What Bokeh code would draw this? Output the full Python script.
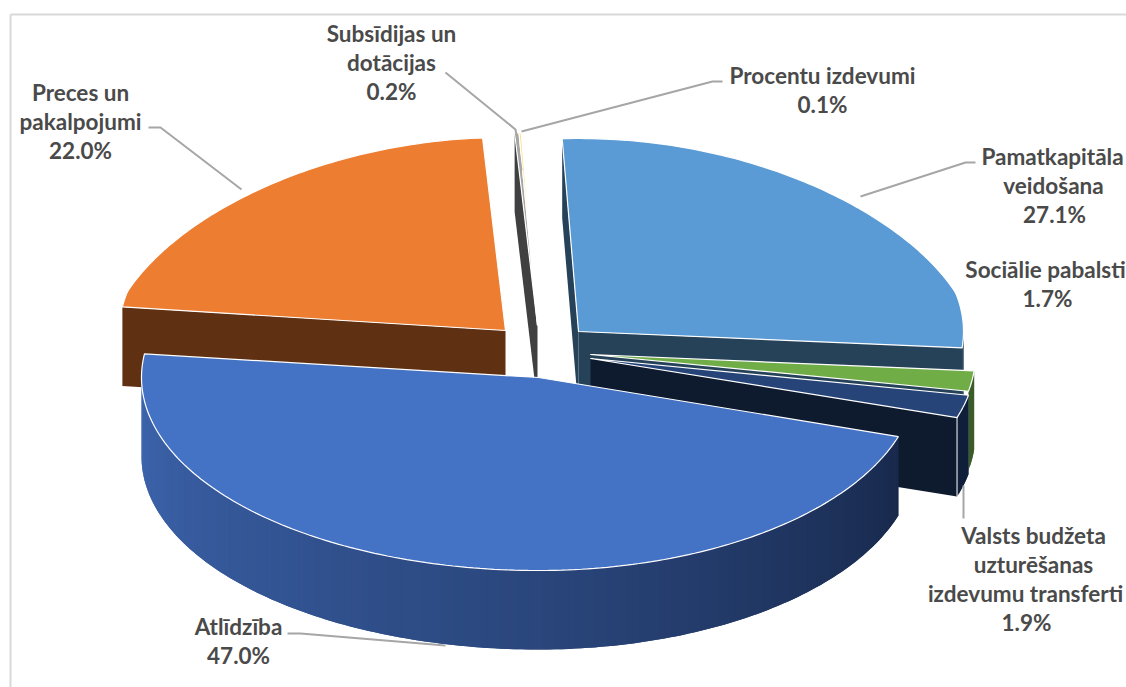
from math import sin, cos, radians
from bokeh.plotting import figure
from bokeh.models import Range1d
from bokeh.core.properties import value
from bokeh.embed import file_html
from bokeh.resources import INLINE

# ---- data ----
categories = ["Pamatkapitāla veidošana", "Sociālie pabalsti",
              "Valsts budžeta uzturēšanas izdevumu transferti", "Atlīdzība",
              "Preces un pakalpojumi", "Subsīdijas un dotācijas", "Procentu izdevumi"]
shares = [27.1, 1.7, 1.9, 47.0, 22.0, 0.2, 0.1]
share_labels = ["27.1%", "1.7%", "1.9%", "47.0%", "22.0%", "0.2%", "0.1%"]
name_lines = [["Pamatkapitāla", "veidošana"], ["Sociālie pabalsti"],
              ["Valsts budžeta", "uzturēšanas", "izdevumu transferti"], ["Atlīdzība"],
              ["Preces un", "pakalpojumi"], ["Subsīdijas un", "dotācijas"], ["Procentu izdevumi"]]

# ---- styling / layout (page pixels) ----
top_colors = ["#5b9bd5", "#70ad47", "#264478", "#4472c4", "#ed7d31", "#a5a5a5", "#ffdf80"]
wall_colors = ["#264259", "#3c5c27", "#0e1a2e", "#1a2b50", "#5f3012", "#404040", "#7f6000"]
rim_colors = ["#264259", "#3c5c27", "#101f3a", None, "#5f3012", "#404040", "#7f6000"]
apex_x = [578, 590, 590, 538, 505, 537, 537]
apex_y = [331, 354, 358, 377, 330, 325, 325]
radius_right = [385, 385, 385, 378, 385, 385, 385]
radius_left = [385, 385, 385, 397, 386, 385, 385]
RY, DEPTH, PERSP, START = 193, 79, 0.1, -2.7
label_y = [156, 269, 535, 626, 92, 33, 75]
label_line_x = [[1052, 1053, 1054], [1045, 1047], [1033, 1033, 1025, 1026], [238, 238],
                [80, 80, 80], [391, 391, 391], [822, 822]]
LINE_H = 29
leaders = [([860, 965, 975], [196, 162, 162]),
           ([963, 963], [485, 518]),
           ([287, 300, 445], [633, 633, 645]),
           ([148, 160, 241], [127, 127, 189]),
           ([445, 515, 521], [72, 129, 170]),
           ([521, 712, 722], [131, 81, 81])]

W, H = 1126, 687
p = figure(width=W, height=H, x_range=Range1d(0, W), y_range=Range1d(H, 0),
           x_axis_type=None, y_axis_type=None, toolbar_location=None,
           output_backend="svg", min_border=0, outline_line_color=None,
           background_fill_color="white", border_fill_color="white")

# frame of the chart
p.line([10, 10], [14, H], line_color="#d9d9d9", line_width=2)
p.line([10, W], [14, 14], line_color="#d9d9d9", line_width=2)


def pt(i, th):
    t = radians(th)
    x, y = sin(t), cos(t)
    f = 1 - PERSP * max(y - 0.2, 0) / 0.8
    r = radius_right[i] if x >= 0 else radius_left[i]
    return apex_x[i] + r * x * f, apex_y[i] - RY * y


def arc(i, a, b, n=None):
    n = n or max(2, int(abs(b - a)) + 2)
    return [pt(i, a + (b - a) * k / (n - 1)) for k in range(n)]


def mix(c1, c2, t):
    a = [int(c1[j:j + 2], 16) for j in (1, 3, 5)]
    b = [int(c2[j:j + 2], 16) for j in (1, 3, 5)]
    return "#%02x%02x%02x" % tuple(round(a[j] + (b[j] - a[j]) * t) for j in range(3))


def gradient(t):
    return mix("#3d65ae", "#2a467c", t / 0.55) if t < 0.55 else mix("#2a467c", "#18294c", (t - 0.55) / 0.45)


# angular spans from the shares
spans = []
acc = START
for s in shares:
    spans.append((acc, acc + s * 3.6))
    acc += s * 3.6


def wall(i, th, color):
    ox, oy = pt(i, th)
    ax, ay = apex_x[i], apex_y[i]
    p.patch([ax, ox, ox, ax], [ay, oy, oy + DEPTH, ay + DEPTH],
            fill_color=color, line_color=None)


def rim(i):
    a, b = spans[i]
    lo, hi = max(a, 90), min(b, 270)
    if hi <= lo:
        return
    pts = arc(i, hi, lo)           # left to right, so each strip overlaps the seam of the last
    n = len(pts)
    for k in range(n - 1):
        x0, y0 = pts[k]
        x1, y1 = pts[min(k + 2, n - 1)]
        mx, my = pts[k + 1]
        col = rim_colors[i] or gradient((k + 0.5) / (n - 1))
        p.patch([x0, mx, x1, x1, mx, x0], [y0, my, y1, y1 + DEPTH, my + DEPTH, y0 + DEPTH],
                fill_color=col, line_color=None)


def top(i):
    a, b = spans[i]
    pts = arc(i, a, b)
    xs = [apex_x[i]] + [q[0] for q in pts]
    ys = [apex_y[i]] + [q[1] for q in pts]
    p.patch(xs, ys, fill_color=top_colors[i], line_color="white", line_width=1.2)


# painter's order, back to front
SUB, PROC, PRE, PAM, SOC, VAL, ATL = 5, 6, 4, 0, 1, 2, 3
wall(SUB, spans[SUB][0], wall_colors[SUB])
top(SUB)
top(PROC)
wall(PRE, spans[PRE][0], wall_colors[PRE])
top(PRE)
wall(PAM, spans[PAM][0], wall_colors[PAM])
wall(PAM, spans[PAM][1], wall_colors[PAM])
rim(PAM)
top(PAM)
rim(SOC)
top(SOC)
rim(VAL)
wall(VAL, spans[VAL][1], wall_colors[VAL])
ox, oy = pt(VAL, spans[VAL][1])
p.line([ox, ox], [oy, oy + DEPTH], line_color="#d9d9d9", line_width=1.2)
top(VAL)
rim(ATL)
top(ATL)

for xs, ys in leaders:
    p.line(xs, ys, line_color="#a6a6a6", line_width=2)

tx, ty, tt = [], [], []
for i, lines in enumerate(name_lines):
    all_lines = lines + [share_labels[i]]
    for j, s in enumerate(all_lines):
        tx.append(label_line_x[i][j])
        ty.append(label_y[i] + j * LINE_H)
        tt.append(s)
p.text(tx, ty, text=tt, text_font=value("Lato"), text_font_style="bold",
       text_font_size="22.5px", text_color="#4a4a4a", text_align="center", text_baseline="middle")

open("out.html", "w").write(file_html(p, INLINE))
